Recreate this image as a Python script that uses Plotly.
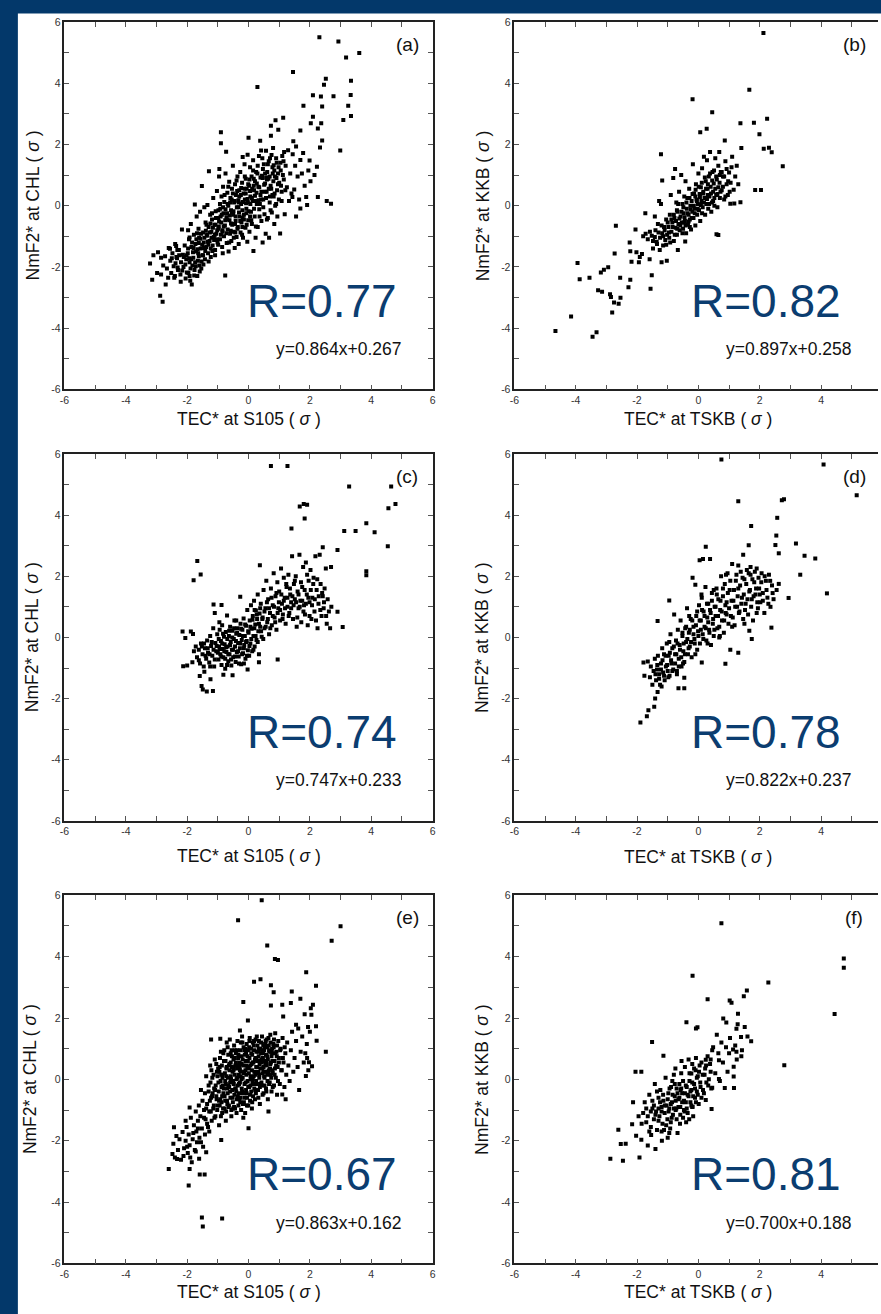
import plotly.graph_objects as go

W, H = 881, 1314

# ---- scatter data: (TEC*, NmF2*) in units of sigma ----
a_pts = [
    (-3.21,-1.89),(-3.14,-2.42),(-3.10,-1.62),(-2.98,-2.20),(-2.95,-1.52),(-2.88,-2.94),(-2.80,-3.14),(-2.85,-1.70),
    (-2.78,-1.95),(-2.72,-1.65),(-2.70,-2.57),(-2.66,-2.05),(-2.60,-1.38),(-2.55,-1.80),(-2.52,-2.20),(-2.48,-1.55),
    (-2.44,-1.98),(-2.40,-2.30),(-2.36,-1.32),(-2.33,-1.72),(-2.30,-2.10),(-2.27,-1.45),(-2.22,-2.25),(-2.20,-1.85),
    (-2.17,-0.78),(-2.14,-1.60),(-2.12,-2.00),(-2.08,-1.30),(-2.05,-2.38),(-2.03,-1.75),(-1.97,-0.80),(-2.39,-1.25),
    (-2.56,-1.41),(-2.35,-1.68),(-1.92,-1.04),
    (-1.98,-1.55),(-1.96,-2.20),(-1.94,-1.10),(-1.92,-1.85),(-1.90,-2.45),(-1.88,-0.60),(-1.86,-1.35),(-1.85,-2.57),
    (-1.83,-1.95),(-1.80,-1.70),(-1.78,-0.95),(-1.76,-2.10),(-1.75,0.04),(-1.73,-1.25),(-1.71,-1.50),(-1.69,-0.35),
    (-1.67,-2.30),(-1.65,-1.80),(-1.63,-0.75),(-1.61,-1.05),(-1.60,-1.95),(-1.58,-0.20),(-1.56,-1.40),(-1.54,-2.05),
    (-1.52,0.64),(-1.50,-1.62),(-1.48,-0.88),(-1.46,-1.20),(-1.44,-0.05),(-1.42,-1.75),(-1.40,-0.55),(-1.38,-1.35),
    (-1.36,-0.98),(-1.34,0.02),(-1.32,-1.55),(-1.30,-0.70),(-1.29,1.12),(-1.27,-1.15),(-1.25,-0.30),(-1.23,-1.68),
    (-1.21,-0.85),(-1.19,-0.45),(-1.17,-1.30),(-1.15,0.25),(-1.13,-1.02),(-1.11,-0.62),(-1.09,-1.45),(-1.07,-0.18),
    (-1.05,-0.92),(-1.03,0.48),(-1.01,-1.20),
    (-0.99,-0.40),(-0.98,-0.75),(-0.96,0.95),(-0.95,1.20),(-0.93,-1.10),(-0.92,-0.10),(-0.90,2.40),(-0.90,2.04),
    (-0.89,-0.55),(-0.88,0.30),(-0.86,-1.35),(-0.85,-0.85),(-0.83,0.62),(-0.82,-0.25),(-0.80,-1.00),(-0.79,0.12),
    (-0.77,-0.65),(-0.76,-2.28),(-0.75,1.05),(-0.73,1.76),(-0.72,-0.38),(-0.71,-1.22),(-0.69,0.42),(-0.68,-0.78),
    (-0.66,0.00),(-0.65,-1.50),(-0.63,0.78),(-0.62,-0.48),(-0.60,-0.92),(-0.59,0.25),(-0.57,-0.15),(-0.56,-1.15),
    (-0.54,0.55),(-0.53,-0.62),(-0.51,1.30),(-0.50,-0.30),(-0.48,-0.85),(-0.47,0.10),(-0.45,-1.38),(-0.44,0.70),
    (-0.42,-0.50),(-0.41,0.35),(-0.39,-1.02),(-0.38,-0.05),(-0.36,0.95),(-0.35,-0.70),(-0.33,0.18),(-0.32,-1.25),
    (-0.30,0.50),(-0.29,-0.35),(-0.27,1.10),(-0.26,-0.88),(-0.24,0.05),(-0.23,-0.55),(-0.21,0.75),(-0.20,-0.15),
    (-0.19,1.59),(-0.18,-1.05),(-0.16,0.40),(-0.15,-0.45),(-0.13,1.35),(-0.12,0.20),(-0.10,-0.72),(-0.09,0.88),
    (-0.07,-0.25),(-0.06,0.55),(-0.04,-1.18),(-0.03,1.66),(-0.02,0.10),(-0.01,-0.48),
    (0.00,2.22),(0.02,0.65),(0.03,-0.85),(0.05,1.25),(0.06,0.30),(0.08,-0.20),(0.10,0.95),(0.11,-0.60),(0.13,0.15),
    (0.15,1.48),(0.16,-1.48),(0.18,0.50),(0.20,-0.35),(0.21,0.80),(0.23,-1.05),(0.25,1.10),(0.27,0.05),(0.29,3.87),
    (0.30,-0.70),(0.32,0.62),(0.34,1.62),(0.35,-0.12),(0.38,2.12),(0.39,0.35),(0.41,1.80),(0.42,-0.50),(0.44,0.98),
    (0.46,-1.20),(0.48,0.20),(0.50,1.35),(0.52,-0.28),(0.54,0.72),(0.56,-0.92),(0.57,1.79),(0.59,0.45),(0.61,1.10),
    (0.63,-0.40),(0.65,0.88),(0.67,-1.05),(0.69,0.10),(0.70,1.55),(0.73,2.28),(0.73,2.61),(0.74,0.55),(0.76,-0.22),
    (0.78,1.25),(0.80,1.88),(0.82,0.30),(0.84,-0.60),(0.86,0.95),(0.88,2.79),(0.90,0.05),(0.92,1.40),(0.94,-0.35),
    (0.96,0.70),(0.97,2.48),(0.99,0.20),
    (1.03,-0.91),(1.05,1.15),(1.08,0.45),(1.10,1.62),(1.13,2.87),(1.15,0.85),(1.18,-0.28),(1.21,1.30),(1.25,0.60),
    (1.29,1.81),(1.32,0.15),(1.36,1.05),(1.40,0.40),(1.43,0.28),(1.44,1.68),(1.45,4.36),(1.46,2.10),(1.49,0.53),
    (1.52,1.30),(1.55,1.93),(1.55,-0.35),(1.60,0.95),(1.65,0.20),(1.69,2.45),(1.69,1.49),(1.69,-0.09),(1.74,1.05),
    (1.78,1.72),(1.79,3.26),(1.83,0.65),(1.88,0.28),(1.91,0.02),(1.95,1.15),(1.99,1.47),
    (2.02,0.80),(2.03,2.69),(2.10,3.60),(2.10,2.90),(2.15,1.00),(2.23,1.27),(2.26,2.52),(2.26,0.28),(2.31,5.50),
    (2.33,1.90),(2.36,3.56),(2.37,2.69),(2.40,3.24),(2.40,2.13),(2.46,3.95),(2.52,4.14),(2.55,0.15),(2.69,0.06),
    (2.77,3.57),(2.93,5.36),(2.99,1.80),(3.09,2.80),(3.18,4.84),(3.25,3.26),(3.33,3.61),(3.34,4.08),(3.34,2.93),
    (3.61,4.98),
    (-2.42,-2.35),(-2.38,-1.88),(-2.31,-2.02),(-2.26,-1.62),(-2.21,-2.48),(-2.16,-2.12),(-2.11,-1.68),(-2.06,-1.92),
    (-2.01,-2.18),(-1.97,-1.40),(-1.93,-1.72),(-1.89,-2.05),(-1.84,-1.20),(-1.81,-1.52),(-1.77,-2.28),(-1.74,-1.85),
    (-1.70,-1.10),(-1.66,-1.42),(-1.62,-1.65),(-1.59,-2.15),(-1.55,-0.92),(-1.51,-1.28),(-1.47,-1.92),(-1.44,-1.05),
    (-1.41,-1.48),(-1.37,-0.62),(-1.33,-1.18),(-1.30,-1.82),(-1.26,-0.88),(-1.23,-1.40),(-1.19,-0.25),(-1.16,-0.72),
    (-1.12,-1.12),(-1.09,-1.62),(-1.06,-0.40),(-1.02,-0.80),(-0.99,-1.28),(-0.96,-0.52),(-0.93,0.05),(-0.90,-0.95),
    (-0.87,-0.30),(-0.84,-1.55),(-0.81,-0.68),(-0.78,0.35),(-0.75,-0.12),(-0.72,-0.90),(-0.69,-0.45),(-0.66,0.62),
    (-0.63,-1.20),(-0.60,0.10),(-0.57,-0.58),(-0.54,-0.22),(-0.51,0.40),(-0.48,-1.05),(-0.45,0.15),(-0.42,-0.35),
    (-0.39,0.82),(-0.36,-0.75),(-0.33,-0.05),(-0.30,0.30),(-0.27,-0.50),(-0.24,0.58),(-0.21,-0.95),(-0.18,0.12),
    (-0.15,-0.30),(-0.12,0.95),(-0.09,0.40),(-0.06,-0.62),(-0.03,0.22),(0.00,-0.18),(0.03,0.85),(0.06,0.05),
    (0.09,-0.48),(0.12,0.55),(0.15,1.15),(0.18,-0.10),(0.21,0.32),(0.24,-0.68),(0.27,0.72),(0.30,1.30),(0.33,0.18),
    (0.36,-0.35),(0.39,0.92),(0.42,0.45),(0.45,1.55),(0.48,-0.05),(0.51,0.68),(0.54,1.05),(0.57,0.25),(0.60,-0.45),
    (0.63,1.35),(0.66,0.55),(0.69,0.95),(0.72,-0.15),(0.75,1.65),(0.78,0.35),(0.81,0.80),(0.84,1.15),(0.87,0.00),
    (0.90,1.55),(0.93,0.50),(0.96,1.05),(1.00,0.75),(1.04,1.40),(1.08,0.15),(1.12,1.00),(1.16,1.75),(1.20,0.50),
    (-1.62,-1.22),(-1.48,-1.62),(-1.35,-0.95),(-1.21,-1.05),(-1.08,-0.62),(-0.98,-0.15),(-0.85,-0.80),(-0.70,-0.25),
    (-0.58,-0.82),(-0.44,-0.60),(-0.32,0.10),(-0.20,-0.70),(-0.08,0.08),(0.05,0.48),(0.17,0.88),(0.26,0.42),
    (0.37,0.05),(0.46,0.90),(0.58,0.92),(0.70,0.30),(0.82,1.32),(-2.85,-2.25),(-2.62,-2.35),(-2.50,-1.72),(-2.32,-1.45),
    (-2.02,-1.62),(-1.87,-1.75),(-1.79,-1.38),(-1.72,-1.98),(-1.64,-1.55),(-1.57,-1.08),(-1.53,-1.82),(-1.45,-1.38),
    (-1.39,-0.82),(-1.31,-1.28),(-1.24,-0.58),(-1.18,-1.48),(-1.10,-0.95),(-1.04,-1.10),(-0.97,-0.68),(-0.91,-0.35),
    (-0.83,-0.05),(-0.76,-0.48),(-0.68,0.05),(-0.61,-0.32),(-0.55,0.20),(-0.49,-0.18),(-0.43,-0.88),(-0.37,0.48),
    (-0.31,-0.22),(-0.25,0.35),(-0.19,-0.40),(-0.13,0.55),(-0.07,-0.10),(-0.01,0.70),(0.05,-0.35),(0.11,0.25),
    (0.17,0.65),(0.23,0.15),(0.29,1.05),(0.35,0.60),(0.41,0.20),(0.47,1.20),(0.53,0.45),(0.60,0.85),(0.66,1.45),
    (0.72,0.65),(0.79,1.05),(0.85,0.40),(0.91,0.90),(0.98,1.25),(1.06,0.65),(1.14,1.45),(-1.92,-2.30),(-1.68,-0.90),
]

b_pts = [
    (2.12,5.64),(1.66,3.78),(-0.19,3.47),(0.45,3.05),(1.37,2.69),(1.81,2.71),(2.24,2.84),(0.06,2.40),(0.27,2.51),
    (1.99,2.33),(0.86,2.13),(-1.22,1.68),(1.40,1.88),(2.13,1.86),(2.30,1.89),(2.39,1.74),(2.75,1.29),(1.85,0.51),
    (2.04,0.51),(1.37,0.11),(1.04,0.06),(1.17,0.07),(-1.18,0.82),(-2.69,-0.66),(-2.05,-0.78),(-1.73,-0.25),
    (0.59,-0.93),(0.65,-0.96),(-0.67,-1.45),(-0.43,-1.17),(-3.94,-1.87),(-3.87,-2.40),(-3.55,-2.35),(-3.18,-2.18),
    (-3.08,-2.09),(-2.94,-2.01),(-3.27,-2.76),(-3.14,-2.81),(-2.88,-2.89),(-2.85,-2.98),(-2.75,-3.16),(-2.60,-3.20),
    (-2.54,-3.01),(-2.81,-3.49),(-2.55,-2.35),(-2.73,-1.56),(-4.15,-3.62),(-4.66,-4.09),(-3.45,-4.28),(-3.32,-4.13),
    (-2.28,-2.66),(-2.22,-2.42),(-2.24,-1.20),(-2.22,-1.49),(-2.18,-1.83),(-2.02,-1.52),(-1.91,-1.68),(-1.94,-1.85),
    (-1.84,-1.58),(-1.56,-2.71),(-1.52,-2.27),(-1.59,-1.75),(-1.20,-1.85),(-1.03,-1.80),
    (-1.80,-1.00),(-1.72,-0.92),(-1.65,-1.10),(-1.58,-0.85),(-1.52,-0.98),(-1.48,-1.15),(-1.42,-0.35),(-1.40,-0.80),
    (-1.35,-1.25),(-1.32,-0.60),(-1.28,0.15),(-1.25,-1.05),(-1.22,0.05),(-1.18,-0.90),(-1.15,-1.30),(-1.12,-0.70),
    (-1.08,-1.12),(-1.05,-0.45),(-1.02,-0.95),
    (-0.98,-0.70),(-0.95,-1.05),(-0.93,-0.30),(-0.90,0.35),(-0.88,-0.85),(-0.85,-0.55),(-0.82,0.90),(-0.80,-1.15),
    (-0.78,-0.40),(-0.76,1.20),(-0.74,-0.72),(-0.72,0.10),(-0.70,-0.95),(-0.68,-0.20),(-0.65,-0.60),(-0.63,0.45),
    (-0.61,-0.80),(-0.58,-0.35),(-0.56,1.00),(-0.54,-0.55),(-0.52,0.05),(-0.50,-0.75),(-0.48,-0.25),(-0.46,0.30),
    (-0.44,-0.50),(-0.42,0.80),(-0.40,-0.90),(-0.38,-0.10),(-0.36,0.25),(-0.34,-0.62),(-0.32,-0.30),(-0.30,0.55),
    (-0.28,-0.45),(-0.26,0.00),(-0.24,-0.78),(-0.22,0.15),(-0.20,-0.20),(-0.18,1.35),(-0.16,-0.40),(-0.14,0.40),
    (-0.12,-0.10),(-0.10,-0.65),(-0.08,0.70),(-0.06,0.20),(-0.04,-0.30),(-0.02,0.05),
    (0.00,1.05),(0.02,-0.15),(0.04,0.38),(0.06,-0.50),(0.08,0.60),(0.10,0.15),(0.12,1.22),(0.14,-0.05),(0.16,0.45),
    (0.18,1.60),(0.20,0.25),(0.22,-0.30),(0.24,0.80),(0.26,0.05),(0.28,1.48),(0.30,0.55),(0.32,-0.10),(0.34,0.95),
    (0.36,0.30),(0.38,1.75),(0.40,0.62),(0.42,-0.20),(0.44,0.10),(0.46,1.10),(0.48,0.45),(0.50,0.72),(0.52,0.00),
    (0.55,1.55),(0.58,0.35),(0.60,0.85),(0.62,-0.05),(0.65,0.60),(0.68,1.75),(0.70,0.25),(0.73,1.10),(0.76,0.50),
    (0.80,0.95),(0.84,0.20),(0.88,1.45),(0.92,0.70),(0.96,0.35),
    (1.00,1.08),(1.05,0.75),(1.10,1.60),(1.15,0.52),(1.20,0.95),(1.25,1.30),(1.30,0.70),
    (-1.48,-1.40),(-1.42,-1.02),(-1.36,-1.18),(-1.30,-0.88),(-1.26,-1.45),(-1.20,-0.65),(-1.15,-1.00),(-1.10,-0.80),
    (-1.05,-1.28),(-1.00,-0.55),(-0.96,-0.88),(-0.92,-1.20),(-0.88,-0.45),(-0.84,-0.70),(-0.80,-0.30),(-0.77,-0.95),
    (-0.73,-0.50),(-0.69,-0.75),(-0.66,0.05),(-0.62,-0.42),(-0.59,-0.65),(-0.55,-0.20),(-0.52,-0.90),(-0.49,-0.05),
    (-0.45,-0.38),(-0.42,-0.65),(-0.39,0.10),(-0.35,-0.25),(-0.32,-0.52),(-0.29,0.25),(-0.25,-0.12),(-0.22,-0.40),
    (-0.19,0.38),(-0.15,0.00),(-0.12,-0.25),(-0.09,0.52),(-0.05,0.15),(-0.02,-0.10),(0.01,0.62),(0.05,0.28),
    (0.08,0.02),(0.11,0.75),(0.15,0.40),(0.18,0.10),(0.21,0.92),(0.25,0.55),(0.28,0.22),(0.31,0.70),(0.35,0.05),
    (0.38,1.05),(0.41,0.40),(0.45,0.82),(0.48,0.15),(0.51,1.15),(0.55,0.55),(0.58,0.95),(0.62,0.38),(0.65,1.30),
    (0.69,0.75),(0.72,0.45),(0.76,1.10),(0.80,0.62),(0.84,0.95),(0.88,0.30),(0.92,1.20),(0.97,0.80),(1.02,0.45),
    (1.08,1.25),(-0.70,-0.15),(-0.47,-0.55),(-0.28,-0.70),(-0.10,0.30),(0.12,-0.25),(0.30,0.35),(0.52,0.25),(0.70,1.00),
]

c_pts = [
    (0.73,5.60),(1.27,5.60),(3.28,4.93),(4.65,4.93),(1.67,4.28),(1.80,4.36),(1.91,4.34),(4.79,4.36),(4.56,4.22),
    (1.83,3.89),(1.40,3.56),(3.84,3.73),(3.12,3.48),(3.49,3.48),(4.11,3.44),(4.54,2.98),(2.90,2.86),(2.42,2.95),
    (3.84,2.16),(3.84,2.03),(-1.67,2.50),(-1.56,2.06),(-1.79,1.87),(0.37,2.36),(2.69,2.30),(3.07,0.34),(2.90,0.84),
    (-2.15,0.19),(-2.06,-0.02),(-1.88,0.19),(-1.81,0.11),(-2.13,-0.94),(-2.00,-0.92),(-1.83,-0.81),(-1.59,-1.26),
    (-1.53,-1.59),(-1.49,-1.70),(-1.36,-1.77),(-1.16,-1.75),(-1.24,-1.37),(-1.44,-1.12),(0.95,-0.72),(-1.14,1.08),
    (-1.10,0.80),(-0.88,1.06),(-0.27,1.33),(-0.82,-1.22),(-0.52,-1.24),(-0.03,-1.05),(0.34,-0.81),
    (-1.78,-0.45),(-1.72,-0.30),(-1.68,-0.65),(-1.62,-0.40),(-1.58,-0.85),(-1.55,-0.20),(-1.50,-0.55),(-1.46,-0.95),
    (-1.42,-0.35),(-1.38,-0.70),(-1.35,-0.10),(-1.32,-0.50),(-1.28,-0.82),(-1.25,0.05),(-1.22,-0.28),(-1.18,-0.60),
    (-1.15,0.30),(-1.12,-0.95),(-1.08,-0.18),(-1.05,-0.45),(-1.02,0.10),
    (-0.98,-0.72),(-0.96,-0.30),(-0.94,0.25),(-0.92,-0.55),(-0.90,-0.12),(-0.88,-0.90),(-0.86,0.40),(-0.84,-0.38),
    (-0.82,-0.65),(-0.80,0.02),(-0.78,-0.22),(-0.76,-1.02),(-0.74,0.18),(-0.72,-0.48),(-0.70,0.72),(-0.68,-0.30),
    (-0.66,-0.78),(-0.64,0.05),(-0.62,-0.55),(-0.60,0.35),(-0.58,-0.15),(-0.56,-0.92),(-0.54,-0.40),(-0.52,0.22),
    (-0.50,-0.65),(-0.48,-0.05),(-0.46,0.55),(-0.44,-0.30),(-0.42,-0.80),(-0.40,0.12),(-0.38,-0.48),(-0.36,0.30),
    (-0.34,-0.18),(-0.32,-0.62),(-0.30,0.08),(-0.28,-0.35),(-0.26,0.45),(-0.24,-0.88),(-0.22,-0.08),(-0.20,0.25),
    (-0.18,-0.52),(-0.16,0.62),(-0.14,-0.25),(-0.12,0.05),(-0.10,-0.70),(-0.08,0.38),(-0.06,-0.12),(-0.04,0.90),
    (-0.02,-0.42),
    (0.00,0.15),(0.02,-0.60),(0.04,0.55),(0.06,-0.20),(0.08,1.05),(0.10,0.28),(0.12,-0.45),(0.14,0.70),(0.16,0.05),
    (0.18,1.20),(0.20,-0.30),(0.22,0.42),(0.24,0.88),(0.26,-0.08),(0.28,0.60),(0.30,1.40),(0.32,0.20),(0.34,-0.55),
    (0.36,0.78),(0.38,0.35),(0.40,1.10),(0.43,0.02),(0.46,0.65),(0.49,1.55),(0.52,0.30),(0.55,0.95),(0.58,1.85),
    (0.61,0.50),(0.64,1.25),(0.67,0.10),(0.70,0.80),(0.73,1.60),(0.76,0.40),(0.79,1.05),(0.82,2.10),(0.85,0.65),
    (0.88,1.35),(0.91,0.25),(0.94,1.80),(0.97,0.95),
    (1.00,1.50),(1.03,0.55),(1.06,2.25),(1.09,1.10),(1.12,0.75),(1.15,1.95),(1.18,1.30),(1.21,0.45),(1.24,1.65),
    (1.27,1.00),(1.30,2.05),(1.33,0.80),(1.36,1.40),(1.39,1.15),(1.42,2.65),(1.45,0.60),(1.48,1.75),(1.51,1.25),
    (1.54,2.00),(1.57,0.35),(1.60,1.50),(1.63,0.95),(1.66,2.70),(1.69,1.20),(1.72,0.50),(1.75,1.65),(1.78,2.30),
    (1.81,1.05),(1.84,0.75),(1.87,2.45),(1.90,1.40),(1.93,0.40),(1.96,1.85),(1.99,1.15),
    (2.02,2.20),(2.05,0.60),(2.08,1.30),(2.12,1.95),(2.15,0.85),(2.18,2.65),(2.22,1.55),(2.25,0.30),(2.28,1.10),
    (2.32,2.70),(2.35,1.75),(2.38,0.70),(2.42,1.35),(2.45,0.95),(2.48,1.60),(2.52,2.25),(2.55,0.45),(2.58,1.25),
    (2.62,0.85),(2.66,0.30),(2.70,1.00),
    (-1.45,-0.20),(-1.40,-0.60),(-1.33,-0.35),(-1.27,-0.55),(-1.20,-0.15),(-1.14,-0.40),(-1.10,-0.72),(-1.04,-0.28),
    (-1.00,-0.50),(-0.97,-0.05),(-0.93,-0.38),(-0.89,-0.62),(-0.86,-0.20),(-0.83,0.12),(-0.79,-0.45),(-0.76,-0.70),
    (-0.73,-0.32),(-0.69,-0.05),(-0.66,-0.55),(-0.63,0.22),(-0.60,-0.25),(-0.57,-0.72),(-0.53,0.00),(-0.50,-0.40),
    (-0.47,0.30),(-0.44,-0.62),(-0.41,-0.12),(-0.37,0.15),(-0.34,-0.45),(-0.31,-0.85),(-0.27,-0.20),(-0.24,0.28),
    (-0.21,-0.55),(-0.18,0.05),(-0.15,-0.35),(-0.11,0.42),(-0.08,-0.15),(-0.05,-0.60),(-0.01,0.20),(0.03,-0.28),
    (0.06,0.35),(0.09,-0.05),(0.13,0.58),(0.16,-0.40),(0.19,0.30),(0.23,0.05),(0.27,0.75),(0.30,-0.15),(0.34,0.45),
    (0.38,0.95),(0.41,0.20),(0.45,0.60),(0.48,-0.05),(0.52,0.85),(0.56,0.35),(0.60,1.15),(0.63,0.60),(0.67,0.95),
    (0.71,0.30),(0.75,1.30),(0.79,0.70),(0.83,1.00),(0.87,0.50),(0.91,1.45),(0.95,0.80),(0.99,1.15),(1.03,0.90),
    (1.07,1.40),(1.11,0.60),(1.15,1.20),(1.19,0.95),(1.23,1.75),(1.27,1.30),(1.31,0.70),(1.35,1.60),(1.39,0.95),
    (1.43,1.35),(1.47,1.05),(1.51,1.85),(1.55,1.15),(1.59,0.65),(1.63,1.40),(1.67,1.00),(1.71,1.80),(1.75,1.20),
    (1.79,0.85),(1.83,1.55),(1.87,1.10),(1.91,2.05),(1.95,1.30),(1.99,0.70),(2.03,1.55),(2.07,1.05),(2.11,1.75),
    (2.16,1.25),(2.20,0.55),(2.24,1.90),(2.29,1.35),(2.34,0.90),(2.40,1.45),(2.46,1.15),(2.53,0.70),(-1.62,-0.75),
    (-1.52,-0.30),(-1.25,-0.95),(-0.95,0.50),(-0.70,-0.90),(-0.40,0.55),(-0.15,-0.85),(0.20,0.90),
]

d_pts = [
    (0.75,5.82),(4.08,5.65),(5.16,4.65),(1.30,4.45),(2.72,4.48),(2.79,4.52),(2.57,3.91),(1.72,3.64),(2.54,3.33),
    (1.64,3.01),(2.51,3.02),(3.18,3.07),(2.62,2.75),(3.46,2.67),(3.81,2.58),(1.46,2.70),(0.24,2.96),(0.04,2.52),
    (0.15,2.56),(0.38,2.56),(3.32,2.05),(4.19,1.44),(2.94,1.29),(2.38,0.32),(-0.95,1.21),(-1.33,0.54),(-1.89,-2.78),
    (-1.68,-2.58),(-1.63,-2.38),(-1.44,-2.27),(-1.41,-2.00),(-1.33,-1.78),(-1.76,-1.25),(-1.79,-0.82),(-1.65,-0.79),
    (-0.65,-1.66),(-0.46,-1.66),(-0.46,-1.32),(0.88,-0.86),(0.11,-0.82),(1.04,-0.40),(1.30,-0.50),(1.74,-0.05),
    (1.66,0.22),
    (-1.58,-1.30),(-1.55,-0.95),(-1.50,-1.55),(-1.46,-1.10),(-1.42,-0.70),(-1.38,-1.40),(-1.35,-1.05),(-1.32,-0.60),
    (-1.28,-1.20),(-1.25,-1.55),(-1.22,-0.85),(-1.18,-0.35),(-1.15,-1.15),(-1.12,-0.55),(-1.10,-1.40),(-1.06,-0.95),
    (-1.03,-0.20),(-1.00,-1.10),
    (-0.97,-0.60),(-0.94,-1.25),(-0.91,0.10),(-0.88,-0.85),(-0.85,-0.35),(-0.82,-1.05),(-0.79,0.75),(-0.76,-0.55),
    (-0.73,-0.10),(-0.70,-1.20),(-0.67,0.25),(-0.64,-0.70),(-0.61,-0.25),(-0.58,0.55),(-0.55,-0.95),(-0.52,0.05),
    (-0.49,-0.45),(-0.46,-0.80),(-0.43,0.30),(-0.40,-0.15),(-0.37,0.95),(-0.34,-0.55),(-0.31,0.15),(-0.28,-0.30),
    (-0.25,0.60),(-0.22,-0.65),(-0.19,1.95),(-0.16,0.35),(-0.13,-0.05),(-0.10,1.72),(-0.07,0.70),(-0.04,-0.40),
    (-0.01,0.20),
    (0.02,1.05),(0.05,-0.20),(0.08,0.55),(0.11,1.30),(0.14,0.10),(0.17,0.85),(0.20,0.35),(0.23,1.65),(0.26,-0.10),
    (0.29,0.65),(0.32,1.10),(0.35,0.25),(0.38,0.90),(0.41,-0.25),(0.44,1.45),(0.47,0.45),(0.50,0.05),(0.53,1.00),
    (0.56,0.70),(0.59,1.60),(0.62,0.30),(0.65,1.25),(0.68,0.00),(0.71,0.90),(0.74,2.00),(0.77,0.55),(0.80,1.35),
    (0.83,0.15),(0.86,1.75),(0.89,0.80),(0.92,1.15),(0.95,2.10),(0.98,0.45),
    (1.02,1.55),(1.06,0.70),(1.10,2.40),(1.14,1.20),(1.18,0.40),(1.22,1.85),(1.26,1.00),(1.30,1.60),(1.34,0.85),
    (1.38,2.15),(1.42,1.30),(1.46,0.60),(1.50,1.90),(1.54,1.10),(1.58,2.20),(1.62,0.75),(1.66,1.50),(1.70,2.05),
    (1.74,1.25),(1.78,0.55),(1.82,1.80),(1.86,1.40),(1.90,2.25),(1.94,0.95),(1.98,1.60),(2.02,1.15),(2.06,2.10),
    (2.10,1.45),(2.15,0.80),(2.20,1.85),(2.25,1.30),(2.30,2.05),(2.35,1.00),(2.40,1.70),(2.45,1.25),(2.55,1.55),
    (2.62,1.75),
    (-1.40,-1.20),(-1.34,-0.90),(-1.28,-1.35),(-1.22,-1.05),(-1.17,-0.75),(-1.12,-1.25),(-1.07,-0.60),(-1.02,-0.90),
    (-0.98,-1.30),(-0.93,-0.50),(-0.89,-0.75),(-0.85,-1.10),(-0.80,-0.30),(-0.76,-0.85),(-0.72,-0.55),(-0.68,-0.20),
    (-0.64,-0.95),(-0.60,-0.40),(-0.56,-0.65),(-0.52,0.15),(-0.48,-0.20),(-0.44,-0.55),(-0.40,0.35),(-0.36,-0.05),
    (-0.32,-0.35),(-0.28,0.25),(-0.24,-0.15),(-0.20,0.55),(-0.16,0.10),(-0.12,-0.20),(-0.08,0.40),(-0.04,0.85),
    (0.00,0.05),(0.04,0.55),(0.08,0.25),(0.12,0.90),(0.16,-0.05),(0.20,0.70),(0.24,0.30),(0.28,1.10),(0.32,0.50),
    (0.36,0.15),(0.40,0.80),(0.44,1.20),(0.48,0.60),(0.52,0.25),(0.56,1.00),(0.60,1.40),(0.64,0.70),(0.68,0.35),
    (0.72,1.20),(0.76,0.85),(0.80,1.60),(0.84,0.55),(0.88,1.05),(0.92,0.75),(0.96,1.45),(1.00,0.95),(1.04,1.85),
    (1.08,1.20),(1.12,0.65),(1.16,1.55),(1.20,1.00),(1.24,2.05),(1.28,1.35),(1.32,0.80),(1.36,1.70),(1.40,1.10),
    (1.44,1.95),(1.48,1.40),(1.52,0.90),(1.56,1.75),(1.60,1.25),(1.64,2.10),(1.68,1.55),(1.72,1.00),(1.76,1.90),
    (1.80,1.35),(1.84,2.15),(1.88,1.60),(1.92,1.15),(1.96,1.95),(2.00,1.40),(2.05,1.80),(2.10,1.20),(2.16,2.00),
    (2.22,1.55),(2.28,1.10),(2.34,1.85),(2.42,1.45),(-1.20,-1.60),(-0.95,-0.15),(-0.70,-1.10),(-0.50,-0.85),
    (-0.30,0.70),(-0.10,-0.55),(0.10,1.40),(0.30,-0.20),(0.50,1.55),(0.70,0.05),(0.90,2.05),(1.10,0.35),
    (1.30,2.35),(1.50,0.45),(1.70,2.30),(1.90,0.80),
]

e_pts = [
    (0.43,5.84),(-0.34,5.19),(3.00,4.99),(2.71,4.52),(0.61,4.36),(0.86,3.92),(0.96,3.89),(1.88,3.49),(0.39,3.26),
    (0.18,3.18),(0.73,3.07),(2.20,3.05),(0.82,2.84),(1.41,2.86),(1.69,2.63),(-0.17,2.52),(1.38,2.49),(1.10,2.43),
    (2.10,2.43),(2.03,2.32),(1.83,2.12),(0.73,2.41),(1.13,2.05),(2.05,2.11),(-0.02,1.92),(2.20,1.73),(1.94,1.71),
    (1.55,1.78),(1.62,1.66),(-0.28,1.59),(2.22,1.26),(2.52,0.90),(1.91,0.70),(1.97,0.56),(2.07,0.43),(1.87,0.11),
    (1.21,-0.65),(1.10,-0.49),(0.65,-1.05),(0.00,-1.59),(-0.89,-1.98),(-2.43,-1.56),(-2.60,-2.92),(-1.95,-3.46),
    (-1.92,-2.92),(-1.59,-3.10),(-1.43,-3.10),(-1.61,-2.59),(-1.38,-2.38),(-2.48,-2.43),(-2.33,-2.60),(-2.05,-1.35),
    (-1.92,-0.92),(-1.22,1.30),(-0.92,1.32),(-1.52,-4.50),(-1.49,-4.80),(-0.86,-4.54),
    (-2.45,-2.10),(-2.40,-2.55),(-2.35,-1.85),(-2.30,-2.30),(-2.25,-1.95),(-2.20,-2.62),(-2.15,-1.72),(-2.10,-2.25),
    (-2.05,-2.00),(-2.02,-1.55),(-1.98,-2.40),(-1.95,-1.80),(-1.92,-2.15),(-1.88,-1.25),(-1.85,-2.70),(-1.82,-1.95),
    (-1.78,-1.50),(-1.75,-2.30),(-1.72,-1.05),(-1.70,-1.70),(-1.68,-2.05),(-1.65,-1.35),(-1.62,-0.85),(-1.60,-1.90),
    (-1.57,-1.20),(-1.55,-0.35),(-1.52,-1.60),(-1.50,-0.70),(-1.48,-2.20),(-1.45,-1.00),
    (-1.42,-0.45),(-1.40,-1.30),(-1.38,0.10),(-1.35,-0.80),(-1.32,-1.55),(-1.30,-0.20),(-1.28,-1.05),(-1.25,0.45),
    (-1.22,-0.60),(-1.20,-1.35),(-1.18,0.05),(-1.15,-0.95),(-1.12,-0.30),(-1.10,0.65),(-1.08,-1.20),(-1.05,-0.55),
    (-1.03,0.25),(-1.00,-0.85),(-0.98,-0.10),(-0.96,-1.50),(-0.94,0.40),(-0.92,-0.65),(-0.90,0.90),(-0.88,-0.25),
    (-0.86,-1.10),(-0.84,0.15),(-0.82,-0.45),(-0.80,0.60),(-0.78,-0.95),(-0.76,-0.05),(-0.74,-1.35),(-0.72,0.35),
    (-0.70,-0.70),(-0.68,1.05),(-0.66,-0.20),(-0.64,-0.85),(-0.62,0.50),(-0.60,-0.40),(-0.58,0.10),(-0.56,-1.20),
    (-0.54,0.75),(-0.52,-0.60),(-0.50,-0.05),
    (-0.49,0.30),(-0.47,-0.90),(-0.45,0.95),(-0.43,-0.30),(-0.41,0.55),(-0.39,-1.10),(-0.37,0.05),(-0.35,-0.55),
    (-0.33,0.80),(-0.31,-0.15),(-0.29,0.40),(-0.27,-0.75),(-0.25,1.20),(-0.23,0.00),(-0.21,-0.40),(-0.19,0.65),
    (-0.17,-1.25),(-0.15,0.20),(-0.13,-0.60),(-0.11,1.00),(-0.09,-0.10),(-0.07,0.45),(-0.05,-0.85),(-0.03,0.75),
    (-0.01,-0.25),(0.01,0.35),(0.03,1.25),(0.05,-0.50),(0.07,0.10),(0.09,0.85),(0.11,-0.95),(0.13,0.55),
    (0.15,-0.15),(0.17,1.10),(0.19,0.25),(0.21,-0.65),(0.23,0.70),(0.25,-0.05),(0.27,1.40),(0.29,0.40),
    (0.31,-0.35),(0.33,0.95),(0.35,0.15),(0.37,-0.80),(0.39,0.60),(0.41,1.20),(0.43,-0.20),(0.45,0.35),
    (0.47,0.85),(0.49,-0.45),
    (0.51,0.10),(0.53,1.05),(0.55,0.50),(0.57,-0.30),(0.59,1.30),(0.61,0.75),(0.63,-0.65),(0.65,0.25),(0.67,0.95),
    (0.69,-0.10),(0.71,1.45),(0.73,0.55),(0.75,-0.40),(0.77,0.85),(0.79,0.20),(0.81,1.15),(0.83,-0.20),(0.85,0.60),
    (0.87,1.50),(0.89,0.05),(0.91,0.90),(0.93,-0.50),(0.95,0.40),(0.97,1.25),(0.99,0.70),(1.02,-0.15),(1.05,1.00),
    (1.08,0.30),(1.11,1.35),(1.14,0.55),(1.17,-0.25),(1.20,0.85),(1.23,0.15),(1.26,1.20),(1.30,0.45),(1.34,-0.05),
    (1.38,0.95),(1.42,1.55),(1.46,0.25),(1.50,0.70),
    (1.55,1.25),(1.60,0.40),(1.65,-0.35),(1.70,0.90),(1.75,1.40),(1.80,0.55),(1.85,0.85),(1.90,1.15),(1.95,0.30),
    (2.00,1.55),
    (-1.26,-0.70),(-1.24,-0.10),(-1.23,-1.05),(-1.21,0.30),(-1.17,-0.45),(-1.14,0.15),(-1.13,-0.85),(-1.11,-1.25),
    (-1.07,-0.20),(-1.05,0.50),(-1.04,-0.65),(-1.02,-1.00),(-1.01,0.10),(-0.97,-0.40),(-0.95,0.25),(-0.94,-0.85),
    (-0.93,0.70),(-0.91,-0.05),(-0.90,-1.20),(-0.87,0.45),(-0.86,-0.55),(-0.85,0.05),(-0.83,-0.95),(-0.82,0.85),
    (-0.81,-0.30),(-0.77,0.20),(-0.76,-0.70),(-0.75,0.60),(-0.74,-0.15),(-0.73,-1.05),(-0.71,1.20),(-0.71,0.40),
    (-0.68,-0.45),(-0.67,0.05),(-0.66,0.80),(-0.65,-0.90),(-0.63,-0.25),(-0.62,0.30),(-0.61,1.30),(-0.59,-0.60),
    (-0.58,0.55),(-0.57,0.00),(-0.56,-1.00),(-0.55,0.95),(-0.53,-0.35),(-0.52,0.25),(-0.51,-0.75),(-0.49,0.65),
    (-0.48,-0.15),(-0.47,1.10),(-0.46,-0.50),(-0.45,0.15),(-0.44,-0.95),(-0.43,0.45),(-0.42,-0.30),(-0.41,0.85),
    (-0.39,0.00),(-0.38,-0.65),(-0.37,0.35),(-0.36,1.25),(-0.35,-0.20),(-0.34,0.70),(-0.33,-0.85),(-0.32,0.15),
    (-0.31,-0.45),(-0.29,0.55),(-0.28,-0.10),(-0.27,0.95),(-0.26,-0.60),(-0.25,0.25),(-0.24,-1.00),(-0.23,0.75),
    (-0.22,-0.30),(-0.21,1.40),(-0.19,0.05),(-0.18,-0.45),(-0.17,0.45),(-0.16,1.05),(-0.15,-0.75),(-0.14,0.25),
    (-0.13,-0.15),(-0.12,0.80),(-0.11,-1.10),(-0.09,0.60),(-0.08,-0.35),(-0.07,0.15),(-0.06,1.15),(-0.05,-0.60),
    (-0.04,0.40),(-0.03,-0.05),(-0.02,0.95),(-0.01,-0.85),(0.01,0.20),(0.02,-0.25),(0.03,0.70),(0.04,1.35),
    (0.05,-0.70),(0.06,0.45),(0.07,0.00),(0.08,1.00),(0.09,-0.40),(0.11,0.30),(0.12,0.80),(0.13,-0.10),(0.14,1.20),
    (0.15,-0.55),(0.16,0.55),(0.17,0.10),(0.18,0.95),(0.19,-0.30),(0.21,0.65),(0.22,0.15),(0.23,1.30),(0.24,-0.45),
    (0.25,0.40),(0.26,0.90),(0.27,-0.15),(0.28,0.60),(0.29,1.10),(0.31,0.25),(0.32,-0.60),(0.33,0.75),(0.34,1.25),
    (0.35,0.05),(0.36,0.50),(0.37,-0.25),(0.38,1.00),(0.39,0.35),(0.41,0.85),(0.42,-0.10),(0.43,0.55),(0.44,1.40),
    (0.45,0.20),(0.46,-0.50),(0.47,0.70),(0.48,1.10),(0.49,0.40),(0.51,0.95),(0.52,-0.20),(0.53,0.60),(0.54,0.25),
    (0.56,1.25),(0.57,0.80),(0.58,-0.40),(0.59,0.45),(0.61,1.05),(0.62,0.15),(0.63,0.65),(0.65,1.35),(0.66,0.30),
    (0.67,-0.15),(0.68,0.90),(0.71,0.50),(0.72,1.20),(0.74,0.05),(0.75,0.75),(0.77,1.00),(0.78,0.30),(0.79,-0.25),
    (0.81,0.60),(0.83,1.30),(0.85,0.15),(0.87,0.85),(0.90,0.45),(0.93,1.10),(0.96,-0.05),(0.99,0.55),(1.03,0.95),
    (1.07,0.30),(1.12,0.70),(1.18,1.05),(-1.35,-1.45),(-1.30,-0.40),(-1.42,-1.80),(-1.55,-2.05),(-1.65,-1.60),
    (-1.72,-2.35),(-1.80,-1.75),(-1.90,-2.55),(-2.00,-2.20),(-2.12,-2.50),(-1.38,-0.95),(-1.28,-1.70),(-1.45,-1.25),
    (-1.19,-0.55),(-1.09,-0.35),(-0.99,0.35),(-0.96,-0.70),(-0.89,0.15),(-0.84,-0.20),(-0.79,0.95),(-0.78,-0.55),
    (-0.72,0.10),(-0.69,-0.80),(-0.64,0.45),(-0.60,-0.10),(-0.54,0.40),(-0.50,-0.95),(-0.46,0.70),(-0.40,-0.40),
    (-0.37,0.95),(-0.33,0.45),(-0.30,-0.65),(-0.26,0.10),(-0.22,0.50),(-0.18,-0.80),(-0.14,0.95),(-0.10,0.30),
    (-0.06,-0.45),(-0.02,0.60),(0.02,1.05),(0.06,-0.20),(0.10,0.50),(0.14,0.00),(0.18,1.25),(0.22,-0.35),
    (0.26,0.70),(0.30,0.20),(0.34,1.00),(0.38,-0.15),(0.42,0.65),(0.46,0.95),(0.50,0.25),(0.54,1.15),(0.58,0.55),
    (0.62,-0.05),(0.66,1.10),(0.70,0.35),(0.74,0.90),(0.78,0.60),(0.82,1.05),(0.86,0.35),(0.92,0.75),(-0.88,-0.75),
    (-0.70,-0.30),(-0.48,0.35),(-0.28,0.30),(-0.08,0.85),(0.12,-0.75),(0.32,0.90),(0.52,0.05),(0.72,0.15),
    (-0.58,0.85),(-0.20,1.20),
]

f_pts = [
    (0.75,5.09),(4.74,3.94),(4.74,3.64),(4.44,2.13),(-0.19,3.38),(2.28,3.16),(1.58,2.90),(1.48,2.71),(0.30,2.61),
    (1.02,2.57),(1.08,2.50),(1.29,2.14),(-0.39,1.86),(-0.03,1.70),(-0.08,1.66),(0.81,1.98),(0.91,1.85),(1.51,1.71),
    (1.24,1.65),(1.28,1.80),(1.72,1.24),(1.39,1.38),(-1.51,1.22),(-1.14,0.77),(2.80,0.46),(1.16,-0.28),(0.86,-0.28),
    (0.43,-0.97),(0.24,-0.67),(-0.19,-0.89),(-2.87,-2.59),(-2.46,-2.65),(-1.92,-2.55),(-2.61,-1.64),(-2.53,-2.11),
    (-2.37,-2.10),(-2.16,-1.46),(-2.13,-0.75),(-2.05,0.25),(-1.86,0.25),(-2.03,-1.84),(-1.86,-1.97),(-1.65,-2.16),
    (-1.40,-2.27),(-1.19,-2.00),(-1.54,-1.81),(1.15,0.41),(1.15,0.09),(0.67,0.01),(0.45,-0.27),(0.40,0.25),
    (1.13,0.97),(1.24,0.90),(1.42,0.95),(1.03,1.35),(0.45,0.95),(0.67,0.62),(0.24,0.64),(-0.09,0.30),(-0.23,0.19),
    (-1.80,-1.10),(-1.75,-0.75),(-1.70,-1.40),(-1.65,-1.20),(-1.60,-0.50),(-1.55,-1.55),(-1.50,-0.95),(-1.45,-1.30),
    (-1.42,-0.15),(-1.38,-1.05),(-1.35,-1.65),(-1.30,-0.60),(-1.27,-1.20),(-1.24,-0.35),(-1.20,-0.90),(-1.17,-1.45),
    (-1.14,-0.70),(-1.10,-1.10),(-1.07,0.05),(-1.04,-0.85),(-1.01,-1.30),(-0.98,-0.45),(-0.95,-0.95),(-0.92,-1.60),
    (-0.89,-0.25),(-0.86,-0.75),(-0.83,-1.15),(-0.80,0.15),(-0.77,-0.55),(-0.74,-1.00),(-0.71,-0.30),(-0.68,-1.75),
    (-0.65,-0.65),(-0.62,-0.15),(-0.59,-0.90),(-0.56,0.20),(-0.53,-0.45),(-0.50,-1.25),(-0.47,-0.70),(-0.44,0.40),
    (-0.41,-0.20),(-0.38,-0.95),(-0.35,-0.50),(-0.32,0.65),(-0.29,-0.05),(-0.26,-0.75),(-0.23,-0.35),(-0.20,0.50),
    (-0.17,-1.20),(-0.14,-0.15),(-0.11,-0.60),(-0.08,0.70),(-0.05,-0.40),(-0.02,0.10),(0.01,-0.80),(0.04,0.45),
    (0.07,-0.25),(0.10,-0.60),(0.14,0.15),(0.18,-0.45),(0.22,0.35),(0.26,-0.10),(0.30,0.75),(0.34,0.00),
    (0.38,0.50),(0.42,-0.30),(0.48,1.05),(0.55,0.20),(0.60,1.45),(0.65,0.85),(0.70,-0.05),(0.75,1.20),
    (0.80,0.55),(0.90,1.05),(0.95,0.25),(1.00,0.85),(1.20,1.10),(1.25,0.65),(1.40,0.75),(1.60,1.40),
    (-1.20,-1.70),(-1.00,-1.90),(-0.90,-1.40),(-0.60,-1.45),(-0.45,-1.05),(-0.30,-1.30),(-0.20,-0.90),
    (-1.50,-0.70),(-1.30,-0.95),(-0.85,-0.05),(-0.75,0.35),(-0.55,0.60),
    (-1.45,-0.85),(-1.40,-1.15),(-1.35,-0.40),(-1.30,-1.35),(-1.25,-0.75),(-1.20,-1.05),(-1.15,-0.50),(-1.10,-0.85),
    (-1.05,-1.50),(-1.00,-0.65),(-0.97,-1.05),(-0.94,-0.30),(-0.90,-0.80),(-0.87,-1.25),(-0.84,-0.50),(-0.80,-0.95),
    (-0.77,-0.15),(-0.74,-0.70),(-0.71,-1.30),(-0.68,-0.45),(-0.65,-0.90),(-0.62,-0.60),(-0.59,-1.15),(-0.56,-0.30),
    (-0.53,-0.75),(-0.50,-0.05),(-0.47,-1.00),(-0.44,-0.45),(-0.41,-0.75),(-0.38,-0.25),(-0.35,-1.10),(-0.32,-0.55),
    (-0.29,0.20),(-0.26,-0.40),(-0.23,-0.85),(-0.20,-0.10),(-0.17,-0.55),(-0.14,0.35),(-0.11,-0.30),(-0.08,-0.75),
    (-0.05,0.05),(-0.02,-0.50),(0.02,0.25),(0.06,-0.10),(0.10,0.55),(0.15,-0.35),(0.20,0.15),(0.25,0.45),
    (0.32,-0.20),(0.40,0.65),(-1.55,-1.05),(-1.60,-1.70),(-1.70,-0.95),(-1.85,-1.45),(-1.95,-1.20),(-1.12,-1.65),
    (-0.95,-1.75),(-0.72,-0.95),(-0.58,-0.35),(-0.40,-1.40),
]

# ---- per-panel labels ----
panel_tags = ["(a)", "(b)", "(c)", "(d)", "(e)", "(f)"]
r_labels = ["R=0.77", "R=0.82", "R=0.74", "R=0.78", "R=0.67", "R=0.81"]
fit_labels = ["y=0.864x+0.267", "y=0.897x+0.258", "y=0.747x+0.233",
              "y=0.822x+0.237", "y=0.863x+0.162", "y=0.700x+0.188"]
x_titles = ["TEC* at S105", "TEC* at TSKB"] * 3
y_titles = ["NmF2* at CHL", "NmF2* at KKB"] * 3
all_pts = [a_pts, b_pts, c_pts, d_pts, e_pts, f_pts]

# ---- layout geometry (pixels) ----
LEFT_X = (60.0, 431.5)
RIGHT_X = (514.0, 881.0)
UNIT = (431.5 - 60.0) / 12.0
ROWS = [(16.0, 387.0), (452.0, 822.5), (897.5, 1269.0)]
XTITLE_GAP = [30, 30, 35, 36, 29, 29]
YTITLE_X = [28, 482, 28, 482, 26, 482]

FONT = "Liberation Sans, Arial, Helvetica, sans-serif"
NAVY = "#03386a"
R_COLOR = "#0b3d70"
TICKS = list(range(-6, 7))

fig = go.Figure()
annotations = []

for i in range(6):
    n = i + 1
    xs_name = "x" if n == 1 else f"x{n}"
    ys_name = "y" if n == 1 else f"y{n}"
    right = (i % 2 == 1)
    px0, px1 = RIGHT_X if right else LEFT_X
    top, bot = ROWS[i // 2]
    xmax = -6 + (px1 - px0) / UNIT

    pts = all_pts[i]
    fig.add_trace(go.Scatter(
        x=[p[0] for p in pts], y=[p[1] for p in pts],
        mode="markers", xaxis=xs_name, yaxis=ys_name,
        marker=dict(symbol="square", size=4, color="black", line=dict(width=0)),
        showlegend=False, hoverinfo="skip",
    ))

    xt = [t for t in TICKS if t <= xmax]
    axis_common = dict(
        showgrid=False, zeroline=False, showline=True, linecolor="#222", linewidth=1.5,
        ticks="inside", ticklen=5, tickwidth=1.2, tickcolor="#555",
        tickfont=dict(family=FONT, size=10.5, color="#333"),
    )
    xaxis = dict(
        domain=[px0 / W, min(px1 / W, 1.0)], range=[-6, xmax], anchor=ys_name,
        tickvals=xt, ticktext=[str(t) if t % 2 == 0 else "" for t in xt],
        mirror="ticks", **axis_common,
    )
    yaxis = dict(
        domain=[1 - bot / H, 1 - top / H], range=[-6, 6], anchor=xs_name,
        tickvals=TICKS, ticktext=[str(t) if t % 2 == 0 else "" for t in TICKS],
        mirror=(False if right else "ticks"), **axis_common,
    )
    fig.update_layout(**{
        ("xaxis" if n == 1 else f"xaxis{n}"): xaxis,
        ("yaxis" if n == 1 else f"yaxis{n}"): yaxis,
    })

    label_x = 5.18 if not right else 5.08
    annotations.append(dict(
        text=panel_tags[i], xref=xs_name, yref=ys_name, x=label_x, y=5.27,
        showarrow=False, xanchor="center", yanchor="middle",
        font=dict(family=FONT, size=19, color="#111"),
    ))
    annotations.append(dict(
        text=r_labels[i], xref=xs_name, yref=ys_name, x=(4.92 if not right else 4.72), y=-3.1,
        showarrow=False, xanchor="right", yanchor="middle",
        font=dict(family=FONT, size=46, color=R_COLOR),
    ))
    annotations.append(dict(
        text=fit_labels[i], xref=xs_name, yref=ys_name, x=5.07, y=-4.67,
        showarrow=False, xanchor="right", yanchor="middle",
        font=dict(family=FONT, size=17.5, color="#111"),
    ))
    annotations.append(dict(
        text=x_titles[i] + " ( <i>σ</i> )", xref=xs_name, yref="paper",
        x=0, y=1 - (bot + XTITLE_GAP[i]) / H,
        showarrow=False, xanchor="center", yanchor="middle",
        font=dict(family=FONT, size=17.5, color="#111"),
    ))
    annotations.append(dict(
        text=y_titles[i] + " ( <i>σ</i> )", xref="paper", yref=ys_name,
        x=YTITLE_X[i] / W, y=0, textangle=-90,
        showarrow=False, xanchor="center", yanchor="middle",
        font=dict(family=FONT, size=17.5, color="#111"),
    ))

fig.update_layout(
    width=W, height=H,
    margin=dict(l=0, r=0, t=0, b=0, pad=0),
    paper_bgcolor=NAVY, plot_bgcolor="white",
    annotations=annotations,
    shapes=[dict(type="rect", xref="paper", yref="paper", layer="below",
                 x0=13 / W, x1=1.01, y0=-0.01, y1=1 - 7.5 / H,
                 fillcolor="white", line=dict(width=0))],
    showlegend=False,
)

fig.write_html("out.html")
